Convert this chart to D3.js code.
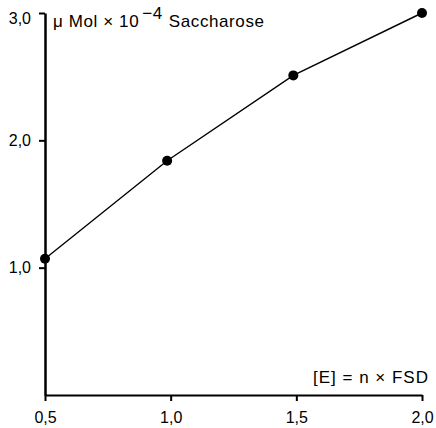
<!DOCTYPE html>
<html>
<head>
<meta charset="utf-8">
<script src="https://cdn.jsdelivr.net/npm/d3@7"></script>
<style>
  body { margin: 0; background: #fff; }
  text { font-family: "Liberation Sans", Arial, sans-serif; fill: #000; }
</style>
</head>
<body>
<div id="chart"></div>
<script>
const enzyme = [0.5, 0.986, 1.488, 2.0];
const saccharose = [1.07, 1.84, 2.51, 3.0];
const xTicks = [0.5, 1.0, 1.5, 2.0];
const yTicks = [1.0, 2.0, 3.0];

const width = 436;
const height = 428;
const margin = { top: 13, right: 14, bottom: 33, left: 45 };

const svg = d3.select("#chart")
  .append("svg")
  .attr("width", width)
  .attr("height", height);

const x = d3.scaleLinear()
  .domain([0.5, 2.0])
  .range([margin.left, width - margin.right]);

const y = d3.scaleLinear()
  .domain([0, 3.0])
  .range([height - margin.bottom, margin.top]);

const fmt = d => d3.format(".1f")(d).replace(".", ",");

// x axis
const gx = svg.append("g")
  .attr("transform", `translate(0,${height - margin.bottom})`)
  .call(d3.axisBottom(x).tickValues(xTicks).tickFormat(fmt).tickSize(6).tickSizeOuter(0));
gx.select(".domain").attr("stroke-width", 2);
gx.selectAll(".tick line").attr("stroke-width", 2);
gx.selectAll(".tick text")
  .attr("font-size", 16)
  .attr("y", 28)
  .attr("dy", 0);

// y axis
const gy = svg.append("g")
  .attr("transform", `translate(${margin.left},0)`)
  .call(d3.axisLeft(y).tickValues(yTicks).tickFormat(fmt).tickSize(6).tickSizeOuter(0));
gy.select(".domain").attr("stroke-width", 2.5);
gy.selectAll(".tick line").attr("stroke-width", 2);
gy.selectAll(".tick text")
  .attr("font-size", 16)
  .attr("x", -14)
  .attr("dy", d => d === 3.0 ? "0.65em" : "0.32em");

// line
const pts = enzyme.map((e, i) => [e, saccharose[i]]);
svg.append("path")
  .datum(pts)
  .attr("fill", "none")
  .attr("stroke", "#000")
  .attr("stroke-width", 1.4)
  .attr("d", d3.line().x(d => x(d[0])).y(d => y(d[1])));

svg.selectAll("circle")
  .data(pts)
  .enter()
  .append("circle")
  .attr("cx", d => x(d[0]))
  .attr("cy", d => y(d[1]))
  .attr("r", 5)
  .attr("fill", "#000");

// axis titles
const yt = svg.append("text")
  .attr("x", 53)
  .attr("y", 27)
  .attr("font-size", 17)
  .attr("letter-spacing", 0.6);
yt.append("tspan").text("μ Mol × 10");
yt.append("tspan").attr("dy", -8).attr("dx", 3).text("−4");
yt.append("tspan").attr("dy", 8).attr("dx", 6).text("Saccharose");

svg.append("text")
  .attr("x", 429)
  .attr("y", 383)
  .attr("text-anchor", "end")
  .attr("font-size", 17)
  .attr("letter-spacing", 1)
  .text("[E] = n × FSD");
</script>
</body>
</html>
